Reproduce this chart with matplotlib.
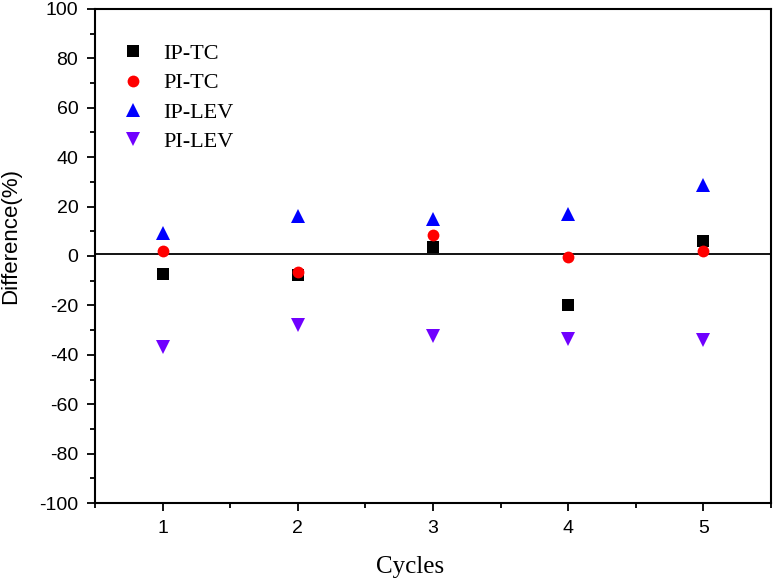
import matplotlib
matplotlib.use('Agg')
import matplotlib.pyplot as plt
from matplotlib.ticker import MultipleLocator

plt.rcParams['axes.unicode_minus'] = False

cycles = [1, 2, 3, 4, 5]
ip_tc = [-7.2, -7.5, 3.7, -19.7, 6.2]
pi_tc = [2.2, -6.3, 8.3, -0.5, 2.1]
ip_lev = [9.5, 16.3, 14.9, 17.0, 28.7]
pi_lev = [-37.0, -28.0, -32.3, -33.8, -34.0]

series = [
    ('IP-TC', ip_tc, 's', '#000000', 8),
    ('PI-TC', pi_tc, 'o', '#ff0000', 8.5),
    ('IP-LEV', ip_lev, '^', '#0000ff', 10),
    ('PI-LEV', pi_lev, 'v', '#7000ff', 10),
]

fig = plt.figure(figsize=(7.74, 5.83), dpi=100)
ax = fig.add_axes([0.1227, 0.1372, 0.8734, 0.8474])

ax.axhline(0.8, color='black', lw=1.3, zorder=1)
for name, vals, marker, color, size in series:
    ax.plot(cycles, vals, linestyle='none', marker=marker, color=color,
            markersize=size, markeredgewidth=0, label=name, zorder=3)

ax.set_xlim(0.5, 5.5)
ax.set_ylim(-100, 100)
ax.xaxis.set_major_locator(MultipleLocator(1))
ax.xaxis.set_minor_locator(MultipleLocator(0.5))
ax.yaxis.set_major_locator(MultipleLocator(20))
ax.yaxis.set_minor_locator(MultipleLocator(10))
ax.tick_params(which='both', direction='out', width=1.3, top=False, right=False)
ax.tick_params(which='major', length=6, pad=6)
ax.tick_params(which='minor', length=3.5)
for lab in ax.get_xticklabels() + ax.get_yticklabels():
    lab.set_fontfamily('Liberation Sans')
    lab.set_fontsize(14)
for sp in ax.spines.values():
    sp.set_linewidth(1.5)

ax.set_xlabel('Cycles', fontfamily='Liberation Serif', fontsize=18)
ax.xaxis.set_label_coords(0.466, -0.108)
# y label sits right at the figure's left edge
fig.text(0.0, (583 - 236) / 583, 'Difference(%)', rotation=90, ha='left', va='center',
         fontfamily='Liberation Sans', fontsize=16)

ax.legend(loc='upper left', bbox_to_anchor=(0.04, 0.93), frameon=False,
          prop={'family': 'Liberation Serif', 'size': 16},
          handlelength=1.0, handletextpad=0.85, labelspacing=0.39,
          borderpad=0, borderaxespad=0)

fig.savefig('out.png', dpi=100)
